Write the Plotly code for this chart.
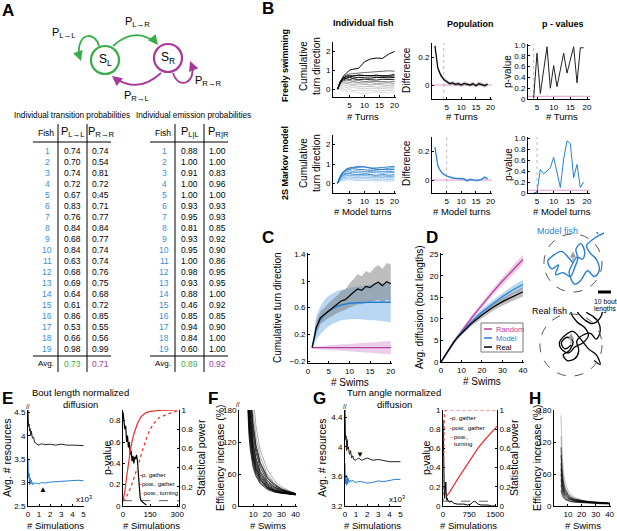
import plotly.graph_objects as go

W, H = 617, 531
FONT = 'Liberation Sans'
BLACK = '#000000'
BLUE = '#2a7fd4'
LIGHT_BLUE = 'rgba(80,155,225,0.40)'
MAGENTA = '#b4419b'
PINK = 'rgba(200,110,185,0.35)'
GRAY_BAND = 'rgba(110,110,110,0.45)'
GREEN = '#39ad4a'
PURPLE = '#a8399a'
RED = '#e8302c'
FISH_BLUE = '#3b8fd8'

# ---------------- data: panel A
fish_ids = list(range(1, 20))
p_ll = [0.74, 0.70, 0.74, 0.72, 0.67, 0.83, 0.76, 0.84, 0.68, 0.84, 0.63, 0.68, 0.69, 0.64, 0.61, 0.86, 0.53, 0.66, 0.98]
p_rr = [0.74, 0.54, 0.81, 0.72, 0.45, 0.71, 0.77, 0.84, 0.77, 0.74, 0.74, 0.76, 0.75, 0.68, 0.72, 0.85, 0.55, 0.56, 0.99]
p_l_l = [0.88, 1.00, 0.91, 1.00, 1.00, 0.93, 0.95, 0.81, 0.93, 0.95, 1.00, 0.98, 0.93, 0.88, 0.46, 0.85, 0.94, 0.84, 0.60]
p_r_r = [1.00, 1.00, 0.83, 0.96, 1.00, 0.93, 0.93, 0.85, 0.92, 0.90, 0.86, 0.95, 0.95, 1.00, 0.92, 0.85, 0.90, 1.00, 1.00]
avg_trans = [0.73, 0.71]
avg_emit = [0.89, 0.92]

# ---------------- data: panel B
turns = [1, 2, 3, 4, 5, 6, 8, 10, 12, 14, 16, 18, 20]
fish_curves = [
    ([0, 0.4, 0.7, 0.85, 1.0, 1.05, 1.1, 1.45, 1.6, 1.65, 1.63, 1.85, 2.0], '#000000', 1.0),
    ([0, 0.45, 0.65, 0.75, 0.8, 0.82, 0.85, 0.88, 0.9, 0.93, 0.95, 0.97, 0.95], '#444444', 0.8),
    ([0, 0.45, 0.6, 0.65, 0.65, 0.7, 0.72, 0.7, 0.68, 0.7, 0.72, 0.68, 0.7], '#000000', 1.0),
    ([0, 0.4, 0.58, 0.7, 0.72, 0.68, 0.75, 0.72, 0.7, 0.75, 0.68, 0.72, 0.78], '#111111', 1.0),
    ([0, 0.4, 0.55, 0.6, 0.62, 0.58, 0.62, 0.6, 0.58, 0.62, 0.6, 0.6, 0.62], '#000000', 1.0),
    ([0, 0.35, 0.5, 0.55, 0.5, 0.55, 0.5, 0.52, 0.5, 0.48, 0.52, 0.5, 0.5], '#222222', 1.0),
    ([0, 0.35, 0.45, 0.48, 0.45, 0.42, 0.45, 0.4, 0.42, 0.4, 0.42, 0.38, 0.4], '#555555', 0.8),
    ([0, 0.3, 0.4, 0.38, 0.35, 0.38, 0.35, 0.32, 0.35, 0.3, 0.32, 0.33, 0.3], '#888888', 0.8),
    ([0, 0.3, 0.32, 0.3, 0.28, 0.25, 0.28, 0.25, 0.22, 0.25, 0.22, 0.2, 0.22], '#999999', 0.8),
    ([0, 0.2, 0.22, 0.2, 0.15, 0.18, 0.15, 0.12, 0.15, 0.1, 0.12, 0.1, 0.12], '#b0b0b0', 0.8),
    ([0, 0.1, 0.12, 0.1, 0.05, 0.08, 0.05, 0.02, 0.05, 0.02, 0.04, 0.0, 0.02], '#c4c4c4', 0.8),
    ([0, 0.05, 0.0, -0.05, -0.02, -0.08, -0.05, -0.1, -0.05, -0.1, -0.08, -0.1, -0.08], '#cccccc', 0.8),
    ([0, -0.05, -0.1, -0.12, -0.15, -0.12, -0.2, -0.25, -0.2, -0.15, -0.18, -0.2, -0.15], '#d6d6d6', 0.8),
]
model_curves = [
    ([0, 0.38, 0.62, 0.75, 0.8, 0.82, 0.88, 0.85, 0.78, 0.8, 0.82, 0.85, 0.88], '#1f6fc0'),
    ([0, 0.35, 0.55, 0.7, 0.78, 0.8, 0.82, 0.85, 0.8, 0.75, 0.72, 0.78, 0.8], '#2a7fd4'),
    ([0, 0.4, 0.6, 0.68, 0.72, 0.75, 0.72, 0.7, 0.68, 0.7, 0.72, 0.7, 0.72], '#1b65b5'),
    ([0, 0.35, 0.5, 0.6, 0.65, 0.62, 0.64, 0.6, 0.62, 0.64, 0.6, 0.62, 0.6], '#3a8ad8'),
    ([0, 0.3, 0.45, 0.52, 0.55, 0.58, 0.55, 0.52, 0.55, 0.56, 0.52, 0.55, 0.55], '#4a95dc'),
    ([0, 0.3, 0.42, 0.48, 0.5, 0.48, 0.45, 0.48, 0.45, 0.42, 0.45, 0.42, 0.45], '#1f6fc0'),
    ([0, 0.25, 0.35, 0.4, 0.42, 0.4, 0.38, 0.4, 0.38, 0.36, 0.38, 0.35, 0.38], '#5ca0e0'),
    ([0, 0.2, 0.28, 0.32, 0.34, 0.32, 0.3, 0.32, 0.3, 0.28, 0.3, 0.28, 0.3], '#75b0e6'),
    ([0, 0.15, 0.22, 0.25, 0.26, 0.24, 0.22, 0.24, 0.22, 0.2, 0.22, 0.2, 0.22], '#8fbfea'),
    ([0, 0.1, 0.15, 0.18, 0.18, 0.16, 0.15, 0.16, 0.14, 0.12, 0.14, 0.12, 0.13], '#a8cdee'),
]
pop_turns = list(range(1, 20))
pop_real = [0.28, 0.12, 0.07, 0.04, 0.025, 0.01, 0.015, 0.005, 0.01, 0.0, 0.012, 0.008, 0.0, 0.01, -0.005, 0.01, 0.005, -0.004, 0.005]
pop_real_lo = [0.26, 0.10, 0.055, 0.028, 0.012, -0.002, 0.003, -0.007, -0.003, -0.013, 0.0, -0.005, -0.013, -0.003, -0.018, -0.003, -0.008, -0.017, -0.008]
pop_real_hi = [0.30, 0.14, 0.085, 0.052, 0.038, 0.022, 0.027, 0.017, 0.023, 0.013, 0.024, 0.021, 0.013, 0.023, 0.008, 0.023, 0.018, 0.009, 0.018]
pop_model = [0.23, 0.1, 0.06, 0.04, 0.028, 0.02, 0.015, 0.012, 0.01, 0.01, 0.008, -0.005, 0.005, 0.002, -0.003, 0.0, 0.006, 0.02, 0.008]
pop_model_lo = [0.215, 0.09, 0.052, 0.032, 0.02, 0.012, 0.007, 0.004, 0.002, 0.002, 0.0, -0.013, -0.003, -0.006, -0.011, -0.008, -0.002, 0.012, 0.0]
pop_model_hi = [0.245, 0.11, 0.068, 0.048, 0.036, 0.028, 0.023, 0.02, 0.018, 0.018, 0.016, 0.003, 0.013, 0.01, 0.005, 0.008, 0.014, 0.028, 0.016]
p_turns = list(range(4, 20))
p_real = [0.02, 0.85, 0.1, 0.5, 0.97, 0.2, 0.62, 0.23, 0.55, 0.85, 0.48, 0.72, 0.97, 0.3, 0.95, 0.95]
p_model = [0.0, 0.02, 0.43, 0.35, 0.4, 0.46, 0.65, 0.35, 0.1, 0.62, 0.95, 0.9, 0.28, 0.52, 0.1, 0.2]
alpha_level = 0.05
cut_real = 4
cut_model = 5

# ---------------- data: panel C
swims = list(range(1, 21))
c_real = [0.0, 0.3, 0.45, 0.5, 0.56, 0.6, 0.65, 0.7, 0.72, 0.78, 0.83, 0.88, 0.86, 0.92, 0.9, 0.95, 0.98, 0.93, 0.99, 0.96]
c_real_lo = [0.0, 0.2, 0.35, 0.4, 0.45, 0.48, 0.52, 0.55, 0.57, 0.6, 0.63, 0.65, 0.65, 0.68, 0.68, 0.7, 0.72, 0.68, 0.72, 0.7]
c_real_hi = [0.0, 0.4, 0.55, 0.6, 0.67, 0.72, 0.78, 0.85, 0.87, 0.96, 1.03, 1.1, 1.07, 1.15, 1.12, 1.2, 1.24, 1.18, 1.27, 1.25]
c_model = [0.0, 0.3, 0.42, 0.5, 0.55, 0.59, 0.62, 0.64, 0.655, 0.665, 0.67, 0.675, 0.678, 0.68, 0.68, 0.68, 0.68, 0.68, 0.68, 0.68]
c_model_lo = [0.0, 0.12, 0.2, 0.27, 0.32, 0.36, 0.39, 0.41, 0.42, 0.43, 0.43, 0.43, 0.42, 0.42, 0.41, 0.41, 0.4, 0.39, 0.39, 0.38]
c_model_hi = [0.0, 0.48, 0.62, 0.72, 0.78, 0.82, 0.85, 0.87, 0.89, 0.9, 0.91, 0.92, 0.93, 0.94, 0.95, 0.95, 0.96, 0.97, 0.97, 0.98]
c_random = [0.0, 0.0, 0.001, 0.0, -0.001, 0.0, 0.0, 0.001, 0.0, 0.0, -0.001, 0.0, 0.0, 0.0, 0.001, 0.0, 0.0, -0.001, 0.0, 0.0]
c_random_lo = [-0.01, -0.02, -0.025, -0.03, -0.035, -0.04, -0.045, -0.05, -0.055, -0.06, -0.064, -0.068, -0.072, -0.076, -0.08, -0.084, -0.088, -0.092, -0.096, -0.1]
c_random_hi = [0.01, 0.02, 0.025, 0.03, 0.035, 0.04, 0.045, 0.05, 0.055, 0.06, 0.064, 0.068, 0.072, 0.076, 0.08, 0.084, 0.088, 0.092, 0.096, 0.1]

# ---------------- data: panel D
d_swims = [0, 2, 4, 6, 8, 10, 15, 20, 25, 30, 35, 40]
d_random = [0, 1.4, 2.9, 4.4, 5.8, 7.1, 10.3, 13.3, 16.1, 18.8, 21.3, 23.8]
d_random_lo = [0, 1.3, 2.7, 4.1, 5.4, 6.6, 9.7, 12.6, 15.3, 17.9, 20.3, 22.7]
d_random_hi = [0, 1.5, 3.1, 4.7, 6.2, 7.6, 10.9, 14.0, 16.9, 19.7, 22.3, 24.9]
d_model = [0, 1.6, 3.1, 4.5, 5.8, 6.9, 9.4, 11.6, 13.5, 15.2, 16.7, 18.0]
d_model_lo = [0, 1.5, 2.9, 4.2, 5.4, 6.4, 8.8, 10.9, 12.7, 14.3, 15.7, 16.9]
d_model_hi = [0, 1.7, 3.3, 4.8, 6.2, 7.4, 10.0, 12.3, 14.3, 16.1, 17.7, 19.1]
d_real = [0, 1.6, 3.1, 4.5, 5.7, 6.7, 9.0, 10.9, 12.6, 14.0, 15.2, 16.3]
d_real_lo = [0, 1.5, 2.9, 4.2, 5.3, 6.2, 8.4, 10.2, 11.8, 13.1, 14.2, 15.2]
d_real_hi = [0, 1.7, 3.3, 4.8, 6.1, 7.2, 9.6, 11.6, 13.4, 14.9, 16.2, 17.4]
model_traj_x = [0, -5, -12, -20, -26, -22, -15, -18, -10, -3, 2, 5, 3, 8, 12, 10, 4, 0, -4, 2, 8, 15, 22, 27, 24, 18, 14, 20, 26, 30, 33, 35, 30, 24, 26]
model_traj_y = [0, 6, 12, 8, 2, -6, -2, -12, -10, -14, -4, 5, 14, 20, 12, 4, 6, 0, -10, -22, -18, -8, -14, -8, 4, 10, 18, 24, 28, 30, 32, 36, 38, 34, 30]
real_traj_x = [0, -6, -10, -4, 2, -2, -8, -4, 4, 8, 6, 12, 20, 26, 30, 28, 22, 16, 18, 26, 32, 30, 22, 14, 8, 4, 0, 6, 14, 18, 12, 4, -2, -8, -12, -6, 2, 10, 18, 26, 30, 24]
real_traj_y = [0, -4, 2, 8, 4, -6, -10, -16, -14, -6, 4, 10, 12, 6, 14, 24, 30, 34, 40, 42, 36, 28, 22, 26, 32, 38, 34, 24, 18, 10, 2, -2, -8, -6, 2, 10, 14, 6, -4, -10, -20, -16]
model_radius = 30
real_radius = 32

# ---------------- data: panels E-H
sims_k = [0, 0.05, 0.1, 0.15, 0.2, 0.25, 0.3, 0.4, 0.5, 0.6, 0.7, 0.8, 1.0, 1.2, 1.5, 2.0, 2.5, 3.0, 3.5, 4.0, 4.5, 5.0]
e_real = [4.55, 4.2, 4.25, 4.1, 4.15, 4.0, 4.1, 3.95, 3.97, 3.86, 3.85, 3.82, 3.8, 3.83, 3.81, 3.82, 3.8, 3.82, 3.8, 3.8, 3.8, 3.79]
e_model = [3.5, 3.1, 3.2, 2.95, 3.1, 2.97, 3.05, 2.95, 3.0, 2.97, 3.0, 2.98, 2.97, 3.0, 2.99, 3.01, 3.02, 3.03, 3.03, 3.05, 3.05, 3.04]
g_real = [4.5, 4.1, 4.15, 3.95, 4.1, 3.97, 4.0, 3.9, 3.95, 3.85, 3.88, 3.83, 3.82, 3.85, 3.82, 3.85, 3.82, 3.83, 3.81, 3.8, 3.8, 3.8]
g_model = [3.78, 3.5, 3.62, 3.48, 3.6, 3.5, 3.57, 3.52, 3.55, 3.53, 3.55, 3.53, 3.52, 3.53, 3.53, 3.51, 3.52, 3.54, 3.53, 3.55, 3.56, 3.56]

e_sims_p = [0, 5, 10, 15, 20, 25, 30, 35, 40, 45, 50, 55, 60, 65, 70, 75, 80, 85, 90, 95, 100, 110, 120, 130]
e_p = [0.88, 0.8, 0.72, 0.75, 0.6, 0.66, 0.55, 0.6, 0.48, 0.52, 0.42, 0.47, 0.4, 0.46, 0.44, 0.48, 0.42, 0.3, 0.15, 0.08, 0.05, 0.03, 0.02, 0.01]
e_sims_pow = [0, 10, 20, 30, 40, 50, 60, 80, 100, 125, 150, 200, 250, 300]
e_pow_gather = [0.05, 0.15, 0.3, 0.45, 0.57, 0.67, 0.75, 0.86, 0.93, 0.97, 0.985, 0.995, 1.0, 1.0]
e_sims_turn = [0, 20, 40, 60, 80, 100, 125, 150, 175, 200, 250, 300]
e_pow_turn = [0.05, 0.1, 0.18, 0.28, 0.4, 0.53, 0.68, 0.8, 0.87, 0.92, 0.96, 0.99]

g_sims_p = [0, 10, 20, 30, 40, 50, 60, 70, 80, 90, 100, 110, 120, 150, 200, 250, 300, 400, 500, 600, 700, 800, 850, 900, 950, 1000, 1100, 1200, 1300, 1400, 1500]
g_p = [0.9, 0.55, 0.3, 0.18, 0.1, 0.08, 0.12, 0.2, 0.25, 0.15, 0.1, 0.06, 0.08, 0.05, 0.04, 0.05, 0.03, 0.02, 0.02, 0.02, 0.01, 0.02, 0.04, 0.05, 0.04, 0.02, 0.01, 0.01, 0.01, 0.0, 0.0]
g_sims_pow = [100, 200, 400, 600, 800, 1000, 1200, 1400, 1550]
g_pow_gather = [0.1, 0.15, 0.27, 0.38, 0.5, 0.6, 0.69, 0.77, 0.83]
g_sims_turn = [0, 10, 20, 30, 40, 60, 100, 1550]
g_pow_turn = [0.05, 0.4, 0.75, 0.92, 0.97, 0.99, 1.0, 1.0]

f_swims = [5, 6, 7, 8, 9, 10, 12, 15, 20, 25, 30, 35, 40]
f_curves = [
    [400, 300, 230, 180, 145, 120, 90, 65, 45, 35, 29, 25, 22],
    [350, 250, 190, 150, 120, 100, 75, 55, 38, 30, 26, 24, 22],
    [300, 210, 160, 125, 100, 85, 64, 48, 34, 28, 25, 23, 21],
    [450, 350, 270, 215, 175, 145, 108, 78, 52, 39, 31, 26, 23],
    [260, 180, 135, 105, 86, 72, 56, 42, 31, 26, 24, 22, 21],
    [500, 400, 320, 260, 210, 175, 130, 92, 60, 43, 33, 27, 23],
    [380, 280, 215, 170, 137, 114, 85, 62, 42, 33, 28, 25, 22],
    [330, 235, 178, 140, 113, 94, 71, 52, 36, 29, 26, 23, 22],
    [420, 320, 250, 200, 162, 135, 100, 72, 48, 36, 30, 26, 23],
    [280, 195, 148, 115, 93, 78, 60, 45, 33, 27, 24, 22, 21],
    [550, 450, 370, 300, 245, 205, 150, 105, 68, 48, 36, 29, 24],
    [360, 265, 200, 158, 128, 106, 80, 58, 40, 31, 27, 24, 22],
    [310, 225, 170, 132, 107, 90, 68, 50, 35, 29, 25, 23, 22],
    [470, 370, 290, 230, 186, 155, 115, 82, 55, 41, 32, 27, 23],
]
h_swims = [5, 5.5, 6, 7, 8, 10, 12, 15, 20, 25, 30, 35, 40]
h_curves = [
    [170, 120, 90, 60, 45, 30, 22, 16, 11, 9, 8, 7, 6],
    [110, 80, 60, 42, 32, 22, 17, 13, 10, 8, 7, 6, 5],
    [80, 60, 45, 32, 25, 18, 14, 11, 9, 7, 6, 6, 5],
    [60, 45, 35, 26, 20, 15, 12, 10, 8, 7, 6, 5, 5],
    [50, 38, 30, 22, 17, 13, 11, 9, 7, 6, 6, 5, 5],
    [40, 30, 24, 18, 14, 11, 9, 8, 7, 6, 5, 5, 4],
    [95, 70, 52, 36, 28, 20, 15, 12, 9, 8, 7, 6, 5],
    [70, 52, 40, 29, 22, 16, 13, 10, 8, 7, 6, 5, 5],
    [130, 95, 70, 48, 36, 25, 19, 14, 10, 8, 7, 6, 5],
    [30, 24, 19, 15, 12, 10, 8, 7, 6, 5, 5, 4, 4],
]

# ---------------- helpers
fig = go.Figure()
ann = []
shp = []
n_axes = 0


def PX(x):
    return x / W


def PY(y):
    return 1 - y / H


def P(x, y):
    return '%.5f,%.5f' % (PX(x), PY(y))


def label(x, y, s, size=8, color=BLACK, angle=0, xanchor='center', yanchor='middle'):
    ann.append(dict(x=PX(x), y=PY(y), xref='paper', yref='paper', text=s, showarrow=False,
                    font=dict(size=size, color=color, family=FONT), textangle=angle,
                    xanchor=xanchor, yanchor=yanchor))


def hline(x0, x1, y, width=1, color=BLACK):
    shp.append(dict(type='line', xref='paper', yref='paper', x0=PX(x0), x1=PX(x1), y0=PY(y), y1=PY(y),
                    line=dict(color=color, width=width)))


def vline(x, y0, y1, width=1, color=BLACK):
    shp.append(dict(type='line', xref='paper', yref='paper', x0=PX(x), x1=PX(x), y0=PY(y0), y1=PY(y1),
                    line=dict(color=color, width=width)))


def arrow_head(tip, tail, color):
    ann.append(dict(x=PX(tip[0]), y=PY(tip[1]), xref='paper', yref='paper', text='', showarrow=True,
                    ax=tail[0] - tip[0], ay=tail[1] - tip[1], axref='pixel', ayref='pixel',
                    arrowhead=2, arrowsize=1.1, arrowwidth=1.8, arrowcolor=color, standoff=0))


def axis_style(visible=True):
    return dict(showline=True, linecolor='black', linewidth=1, ticks='inside', ticklen=2, tickwidth=1,
                tickcolor='black', tickfont=dict(size=8, family=FONT, color='black'), showgrid=False,
                zeroline=False, automargin=False, visible=visible, fixedrange=True)


def add_axes(x0, x1, y0, y1, xr, yr, xt=None, yt=None, xtt=None, ytt=None, visible=True):
    global n_axes
    n_axes += 1
    s = '' if n_axes == 1 else str(n_axes)
    fig.update_layout(**{
        'xaxis' + s: dict(domain=[PX(x0), PX(x1)], range=xr, anchor='y' + s, tickvals=xt, ticktext=xtt,
                          **axis_style(visible)),
        'yaxis' + s: dict(domain=[PY(y1), PY(y0)], range=yr, anchor='x' + s, tickvals=yt, ticktext=ytt,
                          **axis_style(visible)),
    })
    return 'x' + s, 'y' + s


def add_right_axis(ax, yr, yt):
    global n_axes
    n_axes += 1
    s = str(n_axes)
    fig.update_layout(**{'yaxis' + s: dict(overlaying=ax[1], side='right', anchor=ax[0], range=yr,
                                           tickvals=yt, **axis_style())})
    return ax[0], 'y' + s


def line(ax, x, y, color, width=1.0, dash='solid', shape='linear'):
    fig.add_trace(go.Scatter(x=x, y=y, xaxis=ax[0], yaxis=ax[1], mode='lines',
                             line=dict(color=color, width=width, dash=dash, shape=shape),
                             showlegend=False, hoverinfo='skip'))


def band(ax, x, lo, hi, color):
    fig.add_trace(go.Scatter(x=list(x) + list(x)[::-1], y=list(hi) + list(lo)[::-1], xaxis=ax[0], yaxis=ax[1],
                             mode='lines', fill='toself', fillcolor=color, line=dict(width=0),
                             showlegend=False, hoverinfo='skip'))


# ---------------- panel A: diagram
label(8, 11, '<b>A</b>', size=17)
for cx, cy, col, sub in [(105, 60, GREEN, 'L'), (168, 58, PURPLE, 'R')]:
    shp.append(dict(type='circle', xref='paper', yref='paper', x0=PX(cx - 14), x1=PX(cx + 14),
                    y0=PY(cy + 14), y1=PY(cy - 14), line=dict(color=col, width=2.2)))
    label(cx, cy, 'S<sub>%s</sub>' % sub, size=12)
curves = [
    ('M %s C %s %s %s' % (P(99, 46), P(95, 31), P(77, 32), P(79, 55)), GREEN, (81, 61), (79, 55)),
    ('M %s Q %s %s' % (P(113, 46), P(135, 26), P(156, 43)), GREEN, (158, 45), (154, 40)),
    ('M %s Q %s %s' % (P(161, 73), P(138, 94), P(115, 78)), PURPLE, (112, 76), (117, 80)),
    ('M %s C %s %s %s' % (P(173, 73), P(179, 91), P(196, 82), P(192, 66)), PURPLE, (190, 61), (192, 66)),
]
for path, col, tip, tail in curves:
    shp.append(dict(type='path', xref='paper', yref='paper', path=path, line=dict(color=col, width=1.8)))
    arrow_head(tip, tail, col)
label(64, 33, 'P<sub>L→L</sub>', size=11)
label(137, 22, 'P<sub>L→R</sub>', size=11)
label(137, 96, 'P<sub>R→L</sub>', size=11)
label(208, 81, 'P<sub>R→R</sub>', size=11)

# ---------------- panel A: tables
row_y = [151 + 11 * i for i in range(19)]
tables = [
    (0, 72, 'Individual transition probabilities', 'P<sub>L→L</sub>', 'P<sub>R→R</sub>', p_ll, p_rr, avg_trans),
    (117, 193, 'Individual emission probabilities', 'P<sub>L|L</sub>', 'P<sub>R|R</sub>', p_l_l, p_r_r, avg_emit),
]
for dx, tx, title, h1, h2, col1, col2, avg in tables:
    label(tx, 115, title, size=8.2)
    label(46 + dx, 133, 'Fish', size=8.5)
    label(73 + dx, 132, h1, size=11)
    label(101 + dx, 132, h2, size=11)
    hline(33 + dx, 111 + dx, 142)
    hline(33 + dx, 111 + dx, 356)
    vline(58 + dx, 124, 372)
    vline(87 + dx, 124, 372)
    for fid, a, b, yy in zip(fish_ids, col1, col2, row_y):
        label(47 + dx, yy, str(fid), size=8.5, color=FISH_BLUE)
        label(72 + dx, yy, '%.2f' % a, size=8.5)
        label(100 + dx, yy, '%.2f' % b, size=8.5)
    label(46 + dx, 363, 'Avg.', size=8)
    label(72 + dx, 364, '%.2f' % avg[0], size=8.5, color=GREEN)
    label(100 + dx, 364, '%.2f' % avg[1], size=8.5, color=PURPLE)

# ---------------- panel B
label(268, 8, '<b>B</b>', size=17)
label(363, 23, '<b>Individual fish</b>', size=9)
label(470, 24, '<b>Population</b>', size=9)
label(563, 24, '<b>p - values</b>', size=9)
label(285, 66, '<b>Freely swimming</b>', size=9, angle=-90)
label(285, 163, '<b>2S Markov model</b>', size=9, angle=-90)

b1 = add_axes(333, 396, 42, 97, [-0.5, 20.5], [-0.42, 2.5], [5, 10, 15, 20], [0, 1, 2])
for ys, col, wd in fish_curves[::-1]:
    line(b1, turns, ys, col, wd)
b4 = add_axes(333, 396, 135, 193, [-0.5, 20.5], [-0.5, 2.5], [5, 10, 15, 20], [0, 1, 2])
for ys, col in model_curves[::-1]:
    line(b4, turns, ys, col, 0.9, shape='spline')

b2 = add_axes(432, 492, 43, 99, [0, 20.5], [-0.1, 0.3], [5, 10, 15, 20], [0, 0.2])
b5 = add_axes(432, 492, 137, 193, [0, 20.5], [-0.09, 0.3], [5, 10, 15, 20], [0, 0.2])
for ax, cut, lo, mid, hi, col, bcol in [(b2, cut_real, pop_real_lo, pop_real, pop_real_hi, BLACK, GRAY_BAND),
                                         (b5, cut_model, pop_model_lo, pop_model, pop_model_hi, BLUE, LIGHT_BLUE)]:
    line(ax, [cut, cut], [-0.1, 0.3], '#aaaaaa', 0.8, dash='dot')
    line(ax, [0, 20.5], [0, 0], '#e080c0', 0.8)
    band(ax, pop_turns, lo, mid, bcol)
    band(ax, pop_turns, mid, hi, bcol)
    line(ax, pop_turns, mid, col, 1.2)

ptick = [0, 0.2, 0.4, 0.6, 0.8, 1.0]
ptext = ['0', '0.2', '0.4', '0.6', '0.8', '1.0']
b3 = add_axes(528, 590, 44, 99, [2.3, 20.9], [0, 1.02], [5, 10, 15, 20], ptick, None, ptext)
b6 = add_axes(528, 590, 137, 193, [2.3, 20.9], [0, 1.02], [5, 10, 15, 20], ptick, None, ptext)
for ax, cut, ys, col in [(b3, cut_real, p_real, '#222222'), (b6, cut_model, p_model, BLUE)]:
    line(ax, [cut, cut], [0, 1.02], '#aaaaaa', 0.8, dash='dot')
    line(ax, [2.3, 20.9], [alpha_level, alpha_level], '#e080c0', 0.8)
    line(ax, p_turns, ys, col, 1.0)

label(310, 66, 'Cumulative<br>turn direction', size=10, angle=-90)
label(310, 163, 'Cumulative<br>turn direction', size=10, angle=-90)
label(406, 70, 'Difference', size=10, angle=-90)
label(406, 163, 'Difference', size=10, angle=-90)
label(508, 72, 'p-value', size=10, angle=-90)
label(508, 165, 'p-value', size=10, angle=-90)
for xx in [363, 462, 562]:
    label(xx, 116, '# Turns', size=9.5)
    label(xx, 212, '# Model turns', size=9.5)

# ---------------- panel C
label(268, 237, '<b>C</b>', size=17)
c = add_axes(308, 392, 253, 363, [0, 20.3], [-0.23, 1.42], [0, 5, 10, 15, 20], [-0.2, 0.2, 0.6, 1, 1.4])
band(c, swims, c_random_lo, c_random_hi, PINK)
band(c, swims, c_model_lo, c_model_hi, LIGHT_BLUE)
band(c, swims, c_real_lo, c_real_hi, GRAY_BAND)
line(c, swims, c_random, MAGENTA, 1.3)
line(c, swims, c_model, BLUE, 1.5)
line(c, swims, c_real, BLACK, 1.2)
label(277, 308, 'Cumulative turn direction', size=10, angle=-90)
label(350, 382, '# Swims', size=10)

# ---------------- panel D
label(432, 237, '<b>D</b>', size=17)
d = add_axes(441, 524, 253, 362, [0, 40.5], [0, 25.3], [0, 10, 20, 30, 40], [0, 5, 10, 15, 20, 25])
band(d, d_swims, d_random_lo, d_random_hi, PINK)
band(d, d_swims, d_model_lo, d_model_hi, LIGHT_BLUE)
band(d, d_swims, d_real_lo, d_real_hi, GRAY_BAND)
line(d, d_swims, d_random, MAGENTA, 1.3)
line(d, d_swims, d_model, BLUE, 1.3)
line(d, d_swims, d_real, BLACK, 1.3)
label(419, 307, 'Avg. diffusion (bout lengths)', size=10, angle=-90)
label(482, 381, '# Swims', size=10)
shp.append(dict(type='rect', xref='paper', yref='paper', x0=PX(481), x1=PX(523), y0=PY(352), y1=PY(323),
                line=dict(color='#555555', width=0.8), fillcolor='white'))
for yy, name, col in [(329, 'Random', MAGENTA), (338, 'Model', BLUE), (347, 'Real', BLACK)]:
    hline(484, 492, yy, width=1.5, color=col)
    label(494, yy, name, size=7.5, color=col, xanchor='left')

tm = add_axes(542, 604, 232, 294, [-32, 32], [-32, 32], visible=False)
shp.append(dict(type='circle', xref=tm[0], yref=tm[1], x0=-model_radius, x1=model_radius,
                y0=-model_radius, y1=model_radius, line=dict(color='#555555', width=1, dash='dash')))
line(tm, model_traj_x, model_traj_y, BLUE, 1.4, shape='spline')
ann.append(dict(x=0, y=12, xref=tm[0], yref=tm[1], ax=0, ay=12, text='', showarrow=True, arrowhead=2,
                arrowsize=1, arrowwidth=1.2, arrowcolor='#999999'))
label(557, 231, 'Model fish', size=9, color=BLUE)
hline(598, 611, 292, width=3)
label(605, 301, '10 bout', size=6.8)
label(605, 309, 'lengths', size=6.8)

tr = add_axes(538, 604, 312, 378, [-34, 34], [-34, 34], visible=False)
shp.append(dict(type='circle', xref=tr[0], yref=tr[1], x0=-real_radius, x1=real_radius,
                y0=-real_radius, y1=real_radius, line=dict(color='#555555', width=1, dash='dash')))
line(tr, real_traj_x, real_traj_y, BLACK, 1.3, shape='spline')
ann.append(dict(x=0, y=12, xref=tr[0], yref=tr[1], ax=0, ay=12, text='', showarrow=True, arrowhead=2,
                arrowsize=1, arrowwidth=1.2, arrowcolor='#999999'))
label(549, 311, 'Real fish', size=9)

# ---------------- bottom row (E-H)
BOT = 506     # x-axis line of the bottom row
XT_Y = 525    # x-axis titles of the bottom row

# ---------------- panel E
label(7, 398, '<b>E</b>', size=17)
label(80, 392, 'Bout length normalized', size=9.5)
label(80, 404, 'diffusion', size=9.5)
e1 = add_axes(28, 84, 410, BOT, [0, 5.05], [2.5, 4.55], [0, 1, 2, 3, 4, 5], [2.5, 3, 3.5, 4, 4.5])
line(e1, sims_k, e_real, '#222222', 1.0)
line(e1, sims_k, e_model, BLUE, 1.0)
ann.append(dict(x=1.35, y=2.86, xref=e1[0], yref=e1[1], text='▲', showarrow=False,
                font=dict(size=8, color=BLACK)))
label(28, 406, '//', size=6.5)
label(84, 499, 'x10<sup>3</sup>', size=8)
label(7, 458, 'Avg. # resources', size=10.5, angle=-90)
label(55, XT_Y, '# Simulations', size=9.5)

e2 = add_axes(123, 179, 410, BOT, [0, 310], [0, 0.9], [0, 150, 300], [0, 0.2, 0.4, 0.6, 0.8])
e2r = add_right_axis(e2, [0, 1], [0, 0.2, 0.4, 0.6, 0.8, 1])
line(e2, [0, 310], [alpha_level, alpha_level], '#333333', 0.8, dash='dash')
line(e2r, e_sims_turn, e_pow_turn, RED, 1.2, dash='dot')
line(e2r, e_sims_pow, e_pow_gather, RED, 1.2)
line(e2, e_sims_p, e_p, BLACK, 1.2)
label(138, 475, '<b>-</b>p, gather', size=6, xanchor='left')
label(138, 484, '<span style="color:#e8302c"><b>-</b></span>pow., gather', size=6, xanchor='left')
label(138, 493, '<span style="color:#e8302c">--</span>pow., turning', size=6, xanchor='left')
label(107, 458, 'p-value', size=10.5, angle=-90)
label(201, 458, 'Statistical power', size=10.5, angle=-90)
label(151, XT_Y, '# Simulations', size=9.5)

# ---------------- panel F
label(213, 398, '<b>F</b>', size=17)
f = add_axes(239, 297, 410, BOT, [0, 41], [0, 180], [10, 20, 30, 40], [0, 60, 120, 180])
for i, ys in enumerate(f_curves):
    col = 'rgba(0,0,0,0.35)' if i in (5, 10) else 'rgba(0,0,0,0.85)'
    line(f, f_swims, ys, col, 0.9)
label(238, 404, '//', size=6.5)
label(220, 458, 'Efficiency increase (%)', size=10.5, angle=-90)
label(268, XT_Y, '# Swims', size=9.5)

# ---------------- panel G
label(319, 398, '<b>G</b>', size=17)
label(394, 392, 'Turn angle normalized', size=9.5)
label(394, 404, 'diffusion', size=9.5)
g1 = add_axes(345, 401, 410, BOT, [0, 5.05], [3.2, 4.5], [0, 1, 2, 3, 4, 5], [3.2, 3.6, 4, 4.4])
line(g1, sims_k, g_real, '#222222', 1.0)
line(g1, sims_k, g_model, BLUE, 1.0)
ann.append(dict(x=1.35, y=3.9, xref=g1[0], yref=g1[1], text='▼', showarrow=False,
                font=dict(size=8, color=BLACK)))
label(345, 406, '//', size=6.5)
label(397, 499, 'x10<sup>3</sup>', size=8)
label(322, 458, 'Avg. # resources', size=10.5, angle=-90)
label(372, XT_Y, '# Simulations', size=9.5)

g2 = add_axes(443, 497, 410, BOT, [0, 1550], [0, 1], [0, 750, 1500], [0, 0.2, 0.4, 0.6, 0.8, 1])
g2r = add_right_axis(g2, [0, 1], [0, 0.2, 0.4, 0.6, 0.8, 1])
line(g2, [0, 1550], [alpha_level, alpha_level], '#333333', 0.8, dash='dash')
line(g2r, g_sims_turn, g_pow_turn, RED, 1.2, dash='dot')
line(g2r, g_sims_pow, g_pow_gather, RED, 1.2)
line(g2, g_sims_p, g_p, BLACK, 1.0)
label(448, 418, '<b>-</b>p, gather', size=6, xanchor='left')
label(448, 428, '<span style="color:#e8302c"><b>-</b></span>pow., gather', size=6, xanchor='left')
label(448, 437, '<span style="color:#e8302c">--</span>pow.,', size=6, xanchor='left')
label(452, 444, 'turning', size=6, xanchor='left')
label(426, 458, 'p-value', size=10.5, angle=-90)
label(514, 458, 'Statistical power', size=10.5, angle=-90)
label(468, XT_Y, '# Simulations', size=9.5)

# ---------------- panel H
label(535, 398, '<b>H</b>', size=17)
h = add_axes(554, 611, 410, BOT, [0, 41], [0, 180], [10, 20, 30, 40], [0, 60, 120, 180])
for i, ys in enumerate(h_curves):
    col = 'rgba(0,0,0,0.3)' if i in (0, 8) else 'rgba(0,0,0,0.8)'
    line(h, h_swims, ys, col, 0.8)
label(537, 458, 'Efficiency increase (%)', size=10.5, angle=-90)
label(583, XT_Y, '# Swims', size=9.5)

fig.update_layout(width=W, height=H, margin=dict(l=0, r=0, t=0, b=0), autosize=False,
                  paper_bgcolor='white', plot_bgcolor='white', showlegend=False,
                  font=dict(family=FONT, color='black'), annotations=ann, shapes=shp)
# the page's default body margin would push the figure 8px off the window
fig.write_html('out.html', config={'displayModeBar': False},
               post_script="document.body.style.margin='0px';")
